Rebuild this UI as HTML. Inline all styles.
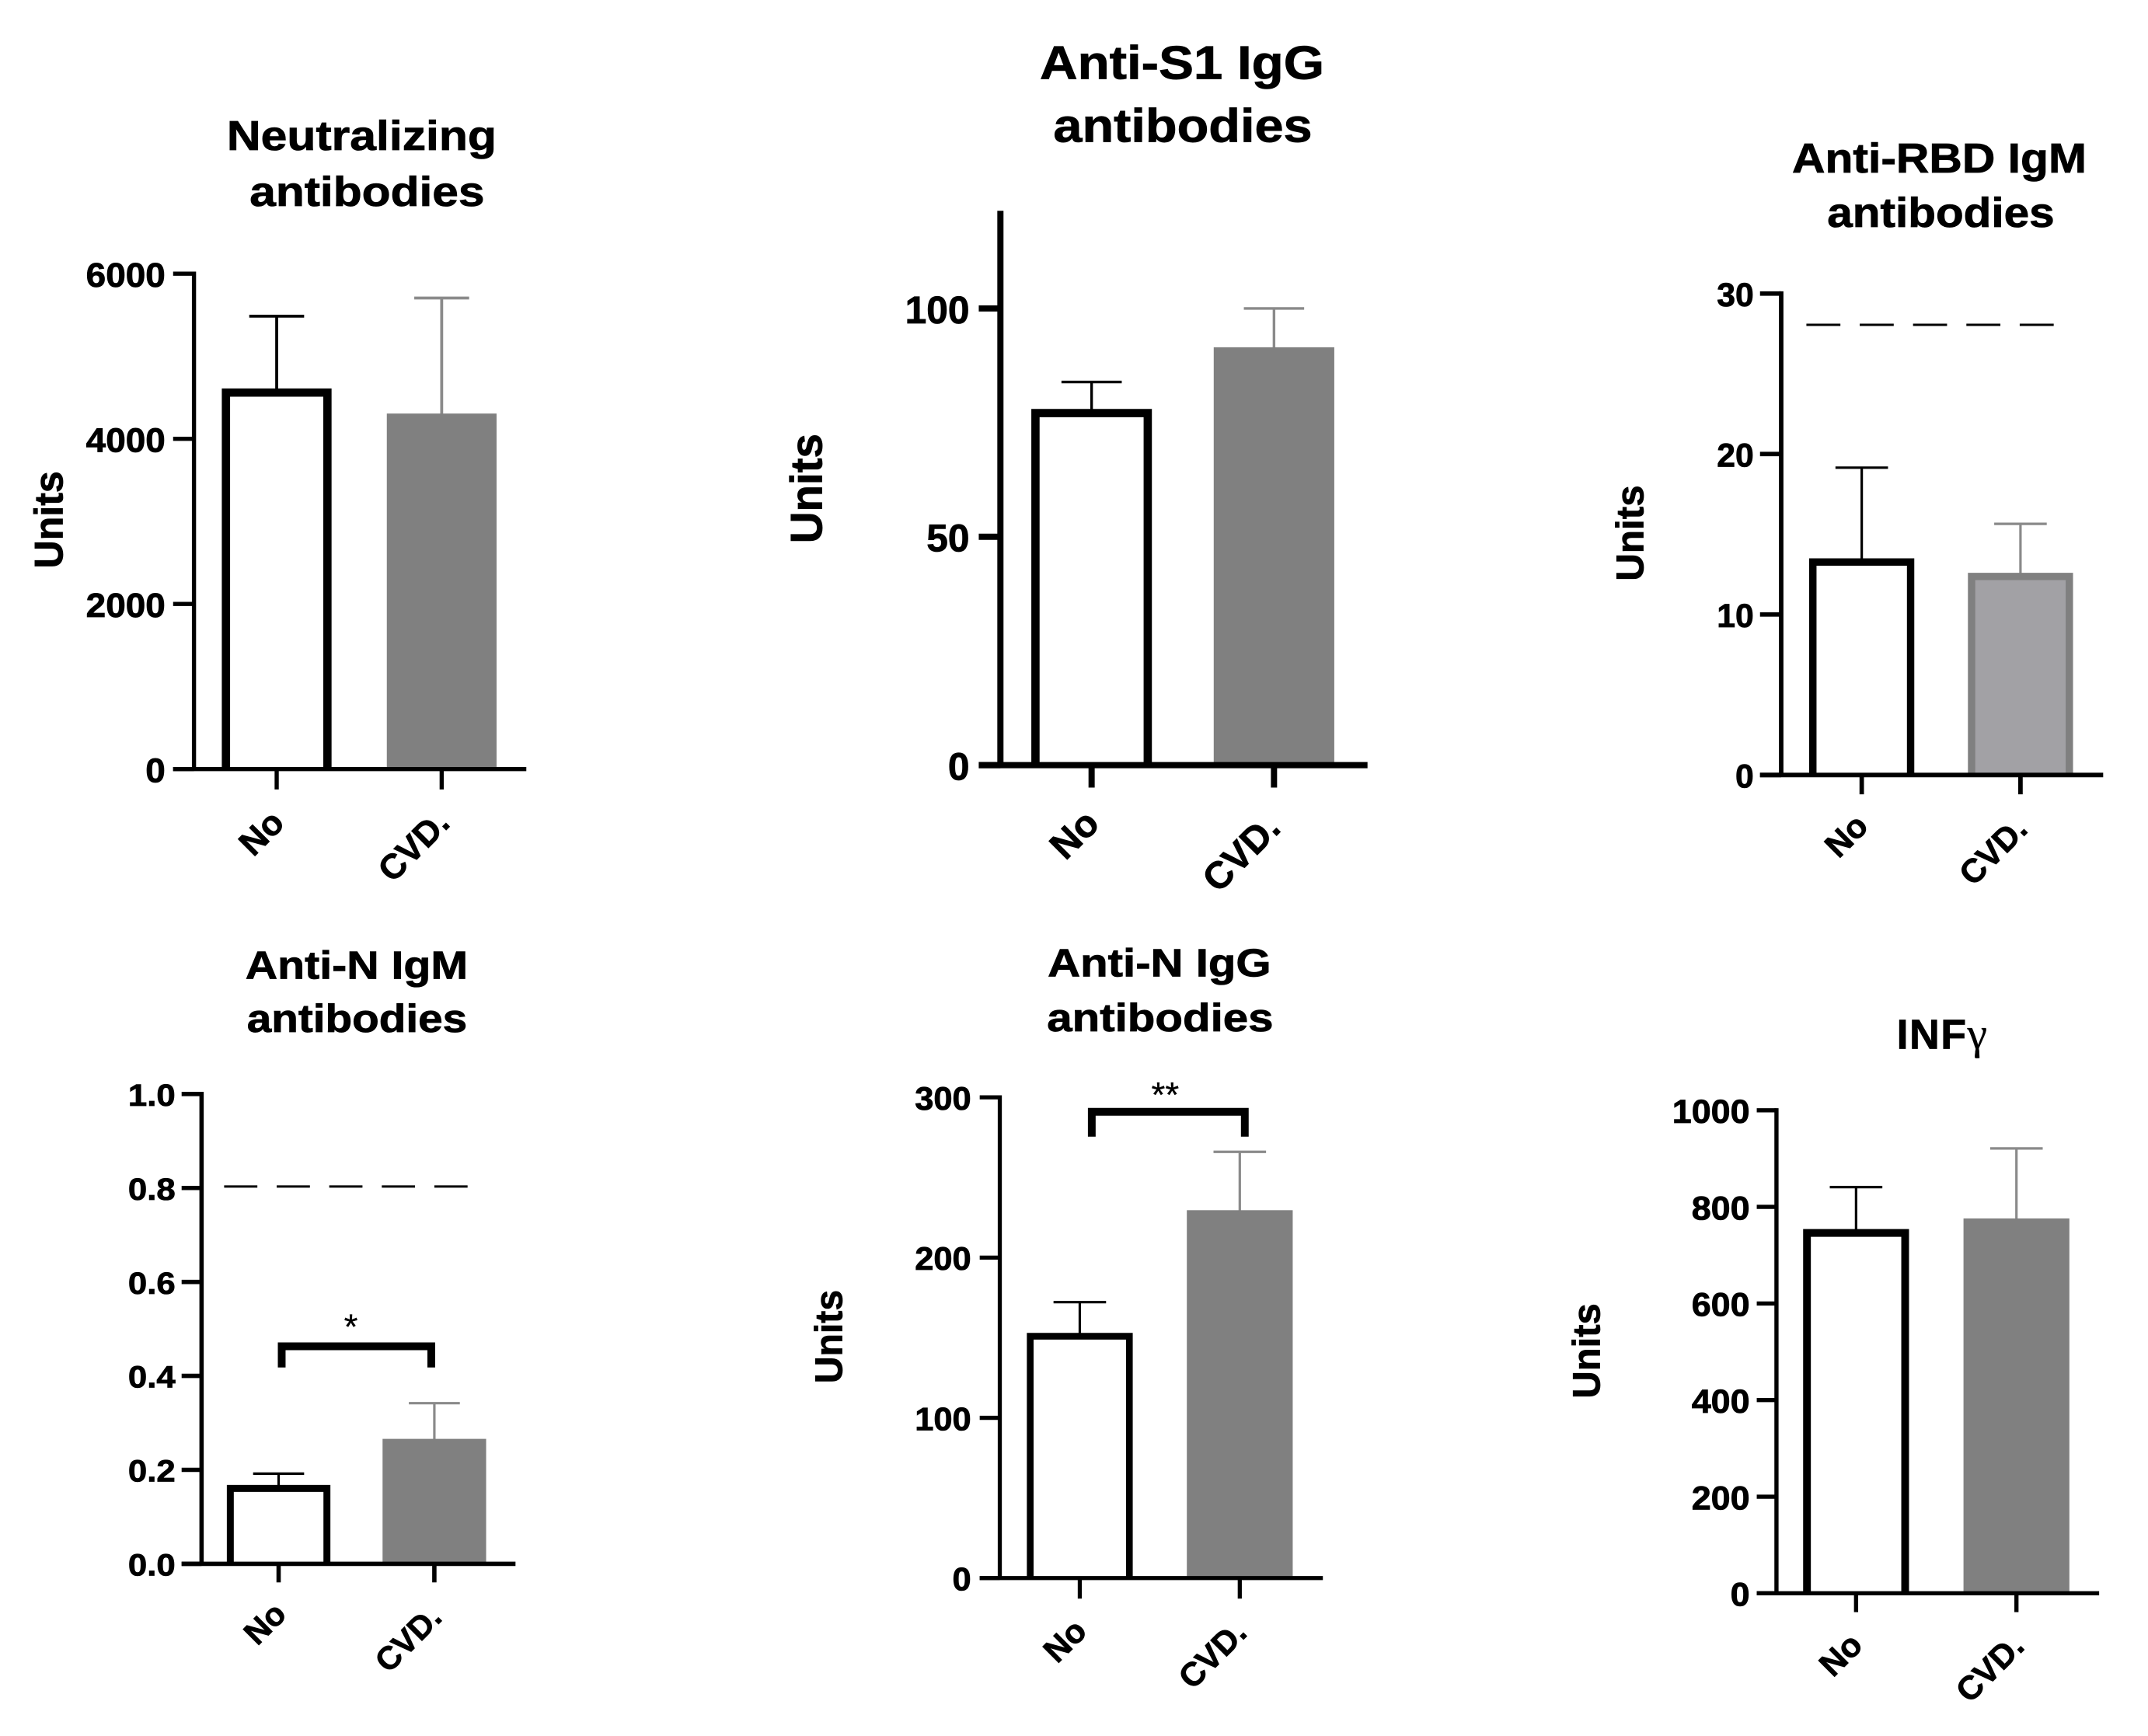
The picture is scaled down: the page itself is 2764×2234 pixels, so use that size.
<!DOCTYPE html>
<html lang="en">
<head>
<meta charset="utf-8">
<title>Antibody levels by CVD status</title>
<style>
html,body{margin:0;padding:0;background:#fff;width:2764px;height:2234px;overflow:hidden}
svg{display:block}
text{font-family:"Liberation Sans",Arial,sans-serif;font-weight:700;fill:#000;stroke:#000;stroke-width:.8px;text-rendering:geometricPrecision}
</style>
</head>
<body>
<svg id="figure" xmlns="http://www.w3.org/2000/svg" width="2764" height="2234" viewBox="0 0 2764 2234">
  <rect x="0" y="0" width="2764" height="2234" fill="#fff"/>

  <g id="p1" transform="translate(0,0.55) scale(0.9945)">
    <text x="468" y="193.5" font-size="54" text-anchor="middle" textLength="349" lengthAdjust="spacingAndGlyphs">Neutralizing</text>
    <text x="475" y="266" font-size="54" text-anchor="middle" textLength="304" lengthAdjust="spacingAndGlyphs">antibodies</text>
    <text transform="translate(81,672) rotate(-90)" font-size="52" text-anchor="middle" textLength="126" lengthAdjust="spacingAndGlyphs">Units</text>
  </g>

  <g id="p2" transform="translate(5.39,0.11) scale(0.9945)">
    <text x="1524" y="102" font-size="61" text-anchor="middle" textLength="368" lengthAdjust="spacingAndGlyphs">Anti-S1 IgG</text>
    <text x="1525" y="183.6" font-size="61" text-anchor="middle" textLength="335" lengthAdjust="spacingAndGlyphs">antibodies</text>
    <text transform="translate(1058,632) rotate(-90)" font-size="58" text-anchor="middle" textLength="142" lengthAdjust="spacingAndGlyphs">Units</text>
  </g>

  <g id="p3" transform="translate(11.22,0.825) scale(0.9945)">
    <text x="2498" y="222.6" font-size="54" text-anchor="middle" textLength="381" lengthAdjust="spacingAndGlyphs">Anti-RBD IgM</text>
    <text x="2500" y="293" font-size="54" text-anchor="middle" textLength="294" lengthAdjust="spacingAndGlyphs">antibodies</text>
    <text transform="translate(2115,689) rotate(-90)" font-size="50" text-anchor="middle" textLength="124" lengthAdjust="spacingAndGlyphs">Units</text>
  </g>

  <g id="p4" transform="translate(0,6.545) scale(0.9945)">
    <text x="461.5" y="1260" font-size="51" text-anchor="middle" textLength="288" lengthAdjust="spacingAndGlyphs">Anti-N IgM</text>
    <text x="462" y="1328.7" font-size="51" text-anchor="middle" textLength="285" lengthAdjust="spacingAndGlyphs">antibodies</text>
  </g>

  <g id="p5" transform="translate(5.61,6.545) scale(0.9945)">
    <text x="1494.5" y="1256.7" font-size="51" text-anchor="middle" textLength="289" lengthAdjust="spacingAndGlyphs">Anti-N IgG</text>
    <text x="1495.5" y="1328" font-size="51" text-anchor="middle" textLength="293" lengthAdjust="spacingAndGlyphs">antibodies</text>
    <text transform="translate(1084,1723) rotate(-90)" font-size="50" text-anchor="middle" textLength="121" lengthAdjust="spacingAndGlyphs">Units</text>
  </g>

  <g id="p6" transform="translate(11,7.04) scale(0.9945)">
    <text x="2443" y="1350" font-size="54" letter-spacing="1.5">INF<tspan font-family="'Liberation Serif',serif" font-weight="400" font-size="58" style="stroke-width:0.3px">γ</tspan></text>
    <text transform="translate(2059,1741) rotate(-90)" font-size="50" text-anchor="middle" textLength="123" lengthAdjust="spacingAndGlyphs">Units</text>
  </g>
</svg>

<script>
// ---- Chart data ----
const categories = ['No', 'CVD.'];

const neutralizingMeans = [4610, 4306];
const neutralizingUpper = [5485, 5705];
const neutralizingTicks = ['0', '2000', '4000', '6000'];

const antiS1Means = [78, 91.5];
const antiS1Upper = [83.9, 100];
const antiS1Ticks = ['0', '50', '100'];
const antiS1AxisMax = [120.7];

const antiRbdMeans = [13.5, 12.6];
const antiRbdUpper = [19.15, 15.65];
const antiRbdTicks = ['0', '10', '20', '30'];
const antiRbdCutoff = [28.05];

const antiNIgmMeans = [0.168, 0.266];
const antiNIgmUpper = [0.192, 0.342];
const antiNIgmTicks = ['0.0', '0.2', '0.4', '0.6', '0.8', '1.0'];
const antiNIgmCutoff = [0.803];
const antiNIgmBracket = [0.463, 0.418];
const antiNIgmSignificance = ['*'];

const antiNIggMeans = [153, 229.6];
const antiNIggUpper = [172.2, 266];
const antiNIggTicks = ['0', '100', '200', '300'];
const antiNIggBracket = [291, 275.5];
const antiNIggSignificance = ['**'];

const infGammaMeans = [754, 776];
const infGammaUpper = [841, 921];
const infGammaTicks = ['0', '200', '400', '600', '800', '1000'];

// ---- Layout (pixels) ----
const SVGNS = 'http://www.w3.org/2000/svg';

const panels = [
  {id:'p1', means:neutralizingMeans, upper:neutralizingUpper, ticks:neutralizingTicks,
   y0:994.6, yTop:353.6, axisX:251, tickLeft:224, xEnd:681, tickBottom:1021, axisW:5.4,
   centers:[358,571.5], barW:142, border:10.7, errW:3.8, capW:71,
   tickFont:44, tickRight:214, stretch:1.05, catFont:45,
   catPos:[[338,1077],[535,1094]]},
  {id:'p2', means:antiS1Means, upper:antiS1Upper, ticks:antiS1Ticks, axisMax:antiS1AxisMax[0],
   y0:990, yTop:399, axisX:1289, tickLeft:1261, xEnd:1764, tickBottom:1019, axisW:8,
   centers:[1407,1643], barW:156, border:10.7, errW:3.4, capW:78,
   tickFont:50, tickRight:1249, stretch:1.0, catFont:49,
   catPos:[[1385,1080],[1601,1104]]},
  {id:'p3', means:antiRbdMeans, upper:antiRbdUpper, ticks:antiRbdTicks, cutoff:antiRbdCutoff[0],
   y0:1002, yTop:379, axisX:2293.4, tickLeft:2266, xEnd:2710, tickBottom:1027, axisW:5.8,
   centers:[2397.6,2603], barW:136, border:9.5, errW:3.2, capW:68, cvdFill:'#a2a1a5', cvdStroke:'#808080',
   cutFrom:2326, cutTo:2648, cutDash:'44 25',
   tickFont:43, tickRight:2258, stretch:1.0, catFont:43,
   catPos:[[2378,1081],[2568,1101]]},
  {id:'p4', means:antiNIgmMeans, upper:antiNIgmUpper, ticks:antiNIgmTicks, cutoff:antiNIgmCutoff[0],
   y0:2017, yTop:1409, axisX:260.8, tickLeft:235, xEnd:667, tickBottom:2041, axisW:5.6,
   centers:[360.5,562], barW:134, border:9, errW:3.2, capW:66,
   cutFrom:290, cutTo:606, cutDash:'43 25',
   bracket:antiNIgmBracket, bracketX:[364.5,558], bracketW:10, stars:antiNIgmSignificance[0], starX:454, starY:1726, starFont:46,
   tickFont:40, tickRight:227, stretch:1.1, catFont:42,
   catPos:[[342.5,2094],[528,2114]]},
  {id:'p5', means:antiNIggMeans, upper:antiNIggUpper, ticks:antiNIggTicks,
   y0:2035.4, yTop:1413.4, axisX:1288, tickLeft:1262, xEnd:1706, tickBottom:2062, axisW:5.3,
   centers:[1391.5,1598.5], barW:137, border:8.7, errW:3.2, capW:68,
   bracket:antiNIggBracket, bracketX:[1407,1605], bracketW:10, stars:antiNIggSignificance[0], starX:1502, starY:1426, starFont:46,
   tickFont:42, tickRight:1251, stretch:1.04, catFont:43,
   catPos:[[1372.6,2117],[1563.6,2135]]},
  {id:'p6', means:infGammaMeans, upper:infGammaUpper, ticks:infGammaTicks,
   y0:2054.6, yTop:1429.6, axisX:2287.5, tickLeft:2262, xEnd:2705, tickBottom:2079, axisW:5.4,
   centers:[2390.5,2598], barW:137, border:10, errW:3.2, capW:68,
   tickFont:43, tickRight:2253, stretch:1.05, catFont:43,
   catPos:[[2371,2134.5],[2564,2152]]}
];

function mk(parent, tag, attrs) {
  const el = document.createElementNS(SVGNS, tag);
  for (const k in attrs) el.setAttribute(k, attrs[k]);
  parent.appendChild(el);
  return el;
}

function charUnits(s) {
  let u = 0;
  for (const c of s) u += (c === '.') ? 0.278 : 0.556;
  return u;
}

panels.forEach(function (p) {
  const g = document.getElementById(p.id);
  const tickMax = Number(p.ticks[p.ticks.length - 1]);
  const yScale = function (v) { return p.y0 - v * (p.y0 - p.yTop) / tickMax; };
  const xScale = function (i) { return p.centers[i]; };
  const axisTopValue = p.axisMax !== undefined ? p.axisMax : tickMax;

  // error bars (behind bars)
  categories.forEach(function (cat, i) {
    const color = i === 0 ? '#000' : '#8a8a8a';
    const stem = mk(g, 'line', {x1:xScale(i), x2:xScale(i), y1:yScale(p.means[i]) + 4, y2:yScale(p.upper[i]), stroke:color, 'stroke-width':p.errW});
    
    
    const cap = mk(g, 'line', {x1:xScale(i) - p.capW / 2, x2:xScale(i) + p.capW / 2, y1:yScale(p.upper[i]), y2:yScale(p.upper[i]), stroke:color, 'stroke-width':p.errW});
    
    
  });

  // bars: the outline is open at the bottom so it ends on the x axis
  categories.forEach(function (cat, i) {
    const top = yScale(p.means[i]);
    const left = xScale(i) - p.barW / 2;
    const right = xScale(i) + p.barW / 2;
    const b = p.border;
    let bar;
    if (i === 0 || p.cvdFill) {
      const fill = i === 0 ? '#fff' : p.cvdFill;
      const line = i === 0 ? '#000' : p.cvdStroke;
      bar = mk(g, 'path', {d:'M' + (left + b / 2) + ' ' + p.y0 + 'V' + (top + b / 2) + 'H' + (right - b / 2) + 'V' + p.y0, fill:fill, stroke:line, 'stroke-width':b, 'stroke-linejoin':'miter'});
    } else {
      bar = mk(g, 'rect', {x:left, y:top, width:p.barW, height:p.y0 - top, fill:'#808080'});
    }
    
    
  });

  // y axis line
  const yAxis = mk(g, 'line', {x1:p.axisX, x2:p.axisX, y1:yScale(axisTopValue) - p.axisW / 2, y2:p.y0, stroke:'#000', 'stroke-width':p.axisW});
  
  

  // y ticks & labels
  p.ticks.forEach(function (label) {
    const y = yScale(Number(label));
    const tick = mk(g, 'line', {x1:p.tickLeft, x2:p.axisX, y1:y, y2:y, stroke:'#000', 'stroke-width':p.axisW});
    
    
    const t = mk(g, 'text', {x:p.tickRight, y:y + p.tickFont * 0.38, 'font-size':p.tickFont, 'text-anchor':'end',
      textLength:(charUnits(label) * p.tickFont * p.stretch).toFixed(1), lengthAdjust:'spacingAndGlyphs'});
    t.textContent = label;
    
    
  });

  // x axis line
  const xAxis = mk(g, 'line', {x1:p.tickLeft, x2:p.xEnd, y1:p.y0, y2:p.y0, stroke:'#000', 'stroke-width':p.axisW});
  
  

  // x ticks & labels
  categories.forEach(function (cat, i) {
    const tick = mk(g, 'line', {x1:xScale(i), x2:xScale(i), y1:p.y0, y2:p.tickBottom, stroke:'#000', 'stroke-width':p.axisW});
    
    
    const pos = p.catPos[i];
    const t = mk(g, 'text', {'font-size':p.catFont, 'text-anchor':'middle', 'dominant-baseline':'central',
      transform:'translate(' + pos[0] + ',' + pos[1] + ') rotate(-45)'});
    t.textContent = cat;
    
    
  });

  // cutoff dashed line
  if (p.cutoff !== undefined) {
    const y = yScale(p.cutoff);
    const cut = mk(g, 'line', {x1:p.cutFrom, x2:p.cutTo, y1:y, y2:y, stroke:'#000', 'stroke-width':3, 'stroke-dasharray':p.cutDash});
    
    
  }

  // significance bracket
  if (p.bracket) {
    const yT = yScale(p.bracket[0]);
    const yB = yScale(p.bracket[1]);
    const br = mk(g, 'path', {d:'M' + p.bracketX[0] + ' ' + yB + 'V' + yT + 'H' + p.bracketX[1] + 'V' + yB, fill:'none', stroke:'#000', 'stroke-width':p.bracketW, 'stroke-linejoin':'miter'});
    
    
    const s = mk(g, 'text', {x:p.starX, y:p.starY, 'font-size':p.starFont, 'text-anchor':'middle', style:'font-weight:400;stroke-width:0.3px'});
    s.textContent = p.stars;
    
    
  }
});
</script>
</body>
</html>
